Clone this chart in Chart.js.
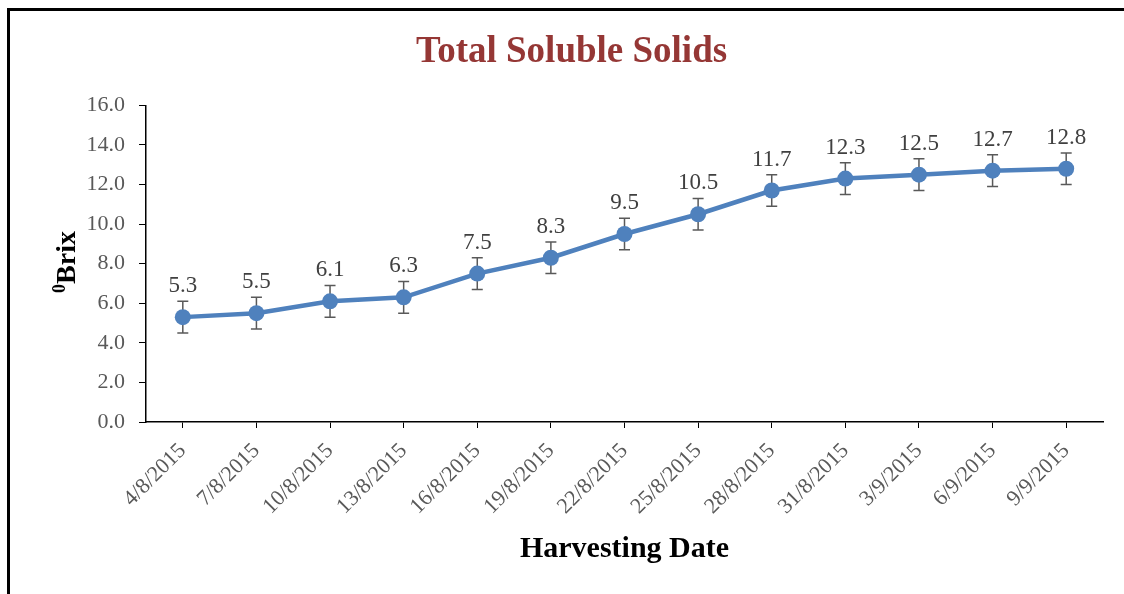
<!DOCTYPE html>
<html>
<head>
<meta charset="utf-8">
<script src="https://cdn.jsdelivr.net/npm/chart.js@4.4.1/dist/chart.umd.min.js"></script>
<style>
  html, body { margin: 0; padding: 0; background: #fff; }
  #wrap { position: relative; width: 1124px; height: 594px; }
  #frame {
    position: absolute; left: 7px; top: 8px; right: 0; bottom: 0;
    border-top: 3px solid #000; border-left: 3px solid #000;
    pointer-events: none;
  }
</style>
</head>
<body>
<div id="wrap">
  <canvas id="tssChart" width="1124" height="594"></canvas>
  <div id="frame"></div>
</div>
<script>
const harvestDates = ["4/8/2015", "7/8/2015", "10/8/2015", "13/8/2015", "16/8/2015", "19/8/2015",
  "22/8/2015", "25/8/2015", "28/8/2015", "31/8/2015", "3/9/2015", "6/9/2015", "9/9/2015"];
const brixValues = [5.3, 5.5, 6.1, 6.3, 7.5, 8.3, 9.5, 10.5, 11.7, 12.3, 12.5, 12.7, 12.8];
const brixErrors = [0.8, 0.8, 0.8, 0.8, 0.8, 0.8, 0.8, 0.8, 0.8, 0.8, 0.8, 0.8, 0.8];
const yTicks = [0, 2, 4, 6, 8, 10, 12, 14, 16];

const SERIF = "'Liberation Serif', 'Times New Roman', serif";

// error bars, drawn under the line and markers
const errorBars = {
  id: "errorBars",
  beforeDatasetsDraw(chart) {
    const { ctx, scales: { y } } = chart;
    const meta = chart.getDatasetMeta(0);
    ctx.save();
    ctx.strokeStyle = "#595959";
    ctx.lineWidth = 1.5;
    meta.data.forEach((pt, i) => {
      const top = y.getPixelForValue(brixValues[i] + brixErrors[i]);
      const bot = y.getPixelForValue(brixValues[i] - brixErrors[i]);
      ctx.beginPath();
      ctx.moveTo(pt.x, top); ctx.lineTo(pt.x, bot);
      ctx.moveTo(pt.x - 5.5, top); ctx.lineTo(pt.x + 5.5, top);
      ctx.moveTo(pt.x - 5.5, bot); ctx.lineTo(pt.x + 5.5, bot);
      ctx.stroke();
    });
    ctx.restore();
  }
};

// value labels above the points
const valueLabels = {
  id: "valueLabels",
  afterDatasetsDraw(chart) {
    const { ctx } = chart;
    const meta = chart.getDatasetMeta(0);
    ctx.save();
    ctx.fillStyle = "#404040";
    ctx.font = "23px " + SERIF;
    ctx.textAlign = "center";
    ctx.textBaseline = "middle";
    meta.data.forEach((pt, i) => {
      ctx.fillText(brixValues[i].toFixed(1), pt.x, pt.y - 31);
    });
    ctx.restore();
  }
};

// y axis title with the superscript 0
const yTitle = {
  id: "yTitle",
  afterDraw(chart) {
    const { ctx } = chart;
    ctx.save();
    ctx.translate(75, 262);
    ctx.rotate(-Math.PI / 2);
    ctx.fillStyle = "#000";
    ctx.textBaseline = "alphabetic";
    ctx.textAlign = "left";
    ctx.font = "bold 18px " + SERIF;
    const w0 = ctx.measureText("0").width;
    ctx.font = "bold 28px " + SERIF;
    const w1 = ctx.measureText("Brix").width;
    const start = -(w0 + w1) / 2;
    ctx.font = "bold 18px " + SERIF;
    ctx.fillText("0", start, -10);
    ctx.font = "bold 28px " + SERIF;
    ctx.fillText("Brix", start + w0, 0);
    ctx.restore();
  }
};

new Chart(document.getElementById("tssChart"), {
  type: "line",
  data: {
    labels: harvestDates,
    datasets: [{
      data: brixValues,
      borderColor: "#4F81BD",
      backgroundColor: "#4F81BD",
      borderWidth: 4.5,
      pointRadius: 8,
      pointHoverRadius: 8,
      pointBorderWidth: 0,
      tension: 0
    }]
  },
  options: {
    responsive: false,
    animation: false,
    layout: { padding: { left: 40, right: 21, top: 0, bottom: 0 } },
    plugins: {
      legend: { display: false },
      tooltip: { enabled: false },
      title: {
        display: true,
        text: "Total Soluble Solids",
        color: "#953735",
        font: { family: SERIF, size: 37, weight: "bold" },
        padding: { top: 30, bottom: 31 }
      }
    },
    scales: {
      x: {
        offset: true,
        grid: { display: true, drawOnChartArea: false, drawTicks: true, tickLength: 6, color: "#000", offset: false },
        border: { display: true, color: "#000", width: 1.5 },
        ticks: { color: "#595959", font: { family: SERIF, size: 22 }, minRotation: 45, maxRotation: 45, padding: 10, autoSkip: false },
        title: {
          display: true,
          text: "Harvesting Date",
          color: "#000",
          font: { family: SERIF, size: 30, weight: "bold" },
          padding: { top: 0, bottom: 27 }
        },
        afterFit(scale) { scale.height = 172; }
      },
      y: {
        min: 0,
        max: 16,
        afterBuildTicks(scale) { scale.ticks = yTicks.map(v => ({ value: v })); },
        grid: { display: true, drawOnChartArea: false, drawTicks: true, tickLength: 7, color: "#000" },
        border: { display: true, color: "#000", width: 1.5 },
        ticks: { color: "#595959", font: { family: SERIF, size: 22 }, padding: 14, callback: v => Number(v).toFixed(1) },
        afterFit(scale) { scale.width = 106; }
      }
    }
  },
  plugins: [errorBars, valueLabels, yTitle]
});
</script>
</body>
</html>
